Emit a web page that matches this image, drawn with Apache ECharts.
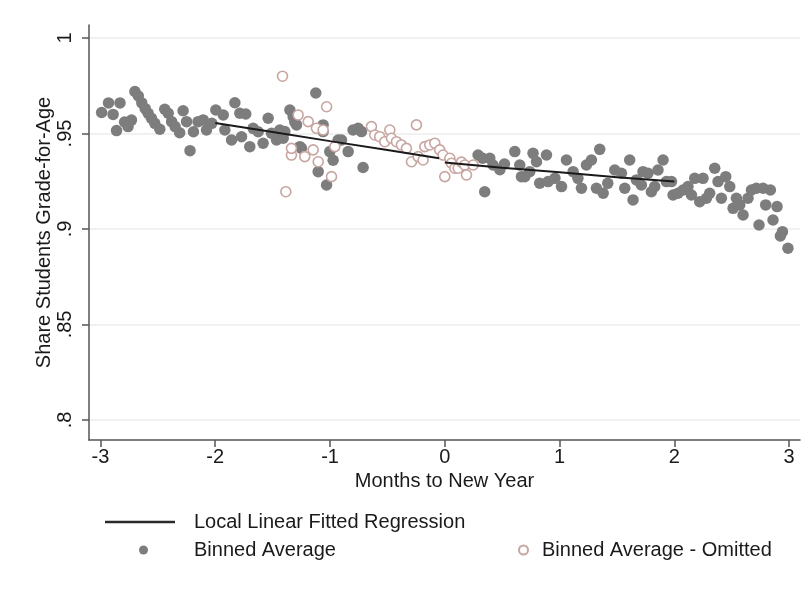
<!DOCTYPE html>
<html>
<head>
<meta charset="utf-8">
<script src="https://cdn.jsdelivr.net/npm/echarts@6/dist/echarts.min.js"></script>
<style>
html,body{margin:0;padding:0;background:#fff;}
#chart{width:809px;height:593px;}
</style>
</head>
<body>
<div id="chart"></div>
<script>
// ---- data ----
const xTicks = [-3, -2, -1, 0, 1, 2, 3];
const yTicks = [0.8, 0.85, 0.9, 0.95, 1];

const binned = [
  [-2.99,.961],[-2.93,.966],[-2.89,.960],[-2.86,.9515],[-2.83,.966],[-2.79,.956],[-2.76,.9536],[-2.73,.957],
  [-2.70,.972],[-2.67,.9696],[-2.64,.966],[-2.61,.963],[-2.585,.9606],[-2.556,.958],[-2.527,.9553],[-2.483,.9522],
  [-2.44,.9627],[-2.41,.9606],[-2.38,.9562],[-2.35,.9536],[-2.31,.9504],[-2.28,.9619],[-2.25,.9562],[-2.22,.941],
  [-2.19,.9509],[-2.15,.9562],[-2.105,.9571],[-2.076,.9518],[-2.03,.9553],[-1.995,.9623],
  [-1.93,.9597],[-1.916,.9518],[-1.858,.9466],[-1.829,.9661],[-1.786,.9606],[-1.771,.9483],[-1.734,.9602],
  [-1.699,.9431],[-1.67,.9527],[-1.626,.9509],[-1.583,.9449],[-1.539,.958],[-1.51,.9501],[-1.466,.9466],
  [-1.437,.9518],[-1.408,.9475],[-1.394,.951],
  [-1.35,.9623],[-1.321,.9588],[-1.307,.956],[-1.292,.9545],[-1.263,.9431],[-1.249,.9422],[-1.124,.9712],
  [-1.103,.930],[-1.06,.9545],[-1.06,.951],[-1.03,.923],[-1.002,.9405],[-0.973,.936],[-0.929,.9466],
  [-0.9,.9466],[-0.842,.9405],[-0.799,.9518],[-0.755,.9527],[-0.726,.951],[-0.712,.9322],
  [0.29,.9387],[0.33,.937],[0.348,.9195],[0.392,.937],[0.42,.9335],[0.48,.931],[0.52,.934],[0.61,.9405],
  [0.653,.9335],[0.668,.9274],[0.697,.9274],[0.74,.930],[0.769,.9396],[0.799,.9352],[0.827,.924],[0.886,.9387],
  [0.90,.9248],[0.96,.9265],[1.017,.9222],[1.06,.9361],[1.118,.930],[1.16,.9265],[1.191,.9213],[1.234,.9335],
  [1.278,.9361],[1.321,.9213],[1.35,.9417],[1.38,.9187],[1.42,.9239],
  [1.481,.9309],[1.539,.9292],[1.568,.9213],[1.611,.9361],[1.64,.9152],[1.67,.9257],[1.713,.923],[1.727,.930],
  [1.771,.9292],[1.80,.9195],[1.829,.9222],[1.858,.9309],[1.902,.9361],[1.931,.9248],[1.975,.9248],[1.989,.9178],
  [2.032,.9187],[2.076,.9204],[2.119,.9222],[2.149,.9178],[2.178,.9265],[2.221,.9143],[2.25,.9265],[2.28,.9161],
  [2.308,.9187],[2.352,.9318],[2.381,.9248],[2.41,.9161],[2.448,.9274],[2.483,.9222],[2.512,.9108],[2.541,.9161],
  [2.57,.9126],[2.599,.9073],[2.642,.9161],[2.672,.9204],[2.715,.9213],[2.738,.9021],[2.773,.9213],[2.796,.9126],
  [2.837,.9204],[2.86,.9047],[2.895,.9117],[2.924,.8963],[2.942,.8986],[2.99,.8899]
];

const omitted = [
  [-1.414,.980],[-1.385,.9195],[-1.336,.9387],[-1.336,.9422],[-1.278,.9597],[-1.22,.9379],[-1.19,.9562],
  [-1.147,.9414],[-1.118,.9527],[-1.103,.9352],[-1.06,.9518],[-1.03,.964],[-0.987,.9274],[-0.958,.9431],
  [-0.639,.9536],[-0.61,.9492],[-0.567,.9483],[-0.523,.9457],[-0.479,.9518],[-0.465,.9475],[-0.421,.9457],
  [-0.378,.944],[-0.334,.9422],[-0.29,.9352],[-0.247,.9545],[-0.232,.9379],[-0.189,.9361],[-0.174,.9431],
  [-0.131,.944],[-0.087,.9449],[-0.044,.9414],[-0.015,.9387],[0.0,.9274],[0.044,.937],[0.058,.9344],
  [0.087,.9318],[0.116,.9318],[0.145,.935],[0.174,.9335],[0.189,.9283],[0.247,.9335]
];

const fitLeft = [[-2,.9555],[-1.5,.9508],[-1,.9460],[-0.5,.9413],[-0.05,.9370]];
const fitRight = [[0,.9348],[0.5,.9321],[1,.9297],[1.5,.9271],[2,.9248]];

// ---- chart ----
const FONT = 'Liberation Sans, Arial, Helvetica, sans-serif';
const TXT = '#1a1a1a';
const AX = '#555555';
const chart = echarts.init(document.getElementById('chart'), null, {renderer: 'canvas'});
const fmtY = v => String(v).replace(/^0\./, '.');

chart.setOption({
  animation: false,
  backgroundColor: '#ffffff',
  textStyle: {fontFamily: FONT},
  grid: {left: 89, top: 25, right: 9, bottom: 153, containLabel: false},
  xAxis: {
    type: 'value', min: -3.1, max: 3.095,
    name: 'Months to New Year', nameLocation: 'middle', nameGap: 31,
    nameTextStyle: {fontSize: 20, color: TXT, fontFamily: FONT},
    axisLine: {show: true, onZero: false, lineStyle: {color: AX, width: 1.5}},
    axisTick: {show: true, customValues: xTicks, length: 7, lineStyle: {color: AX, width: 1.5}},
    axisLabel: {customValues: xTicks, fontSize: 20, color: TXT, margin: 7, fontFamily: FONT},
    splitLine: {show: false}
  },
  yAxis: {
    type: 'value', min: 0.7895, max: 1.0068,
    name: 'Share Students Grade-for-Age', nameLocation: 'middle', nameGap: 35, nameRotate: 90,
    nameMoveOverlap: false,
    nameTextStyle: {fontSize: 20, color: TXT, fontFamily: FONT},
    axisLine: {show: true, onZero: false, lineStyle: {color: AX, width: 1.5}},
    axisTick: {show: true, customValues: yTicks, length: 7, lineStyle: {color: AX, width: 1.5}},
    axisLabel: {customValues: yTicks, rotate: 90, fontSize: 20, color: TXT, margin: 14,
                formatter: fmtY, fontFamily: FONT},
    splitLine: {show: true, lineStyle: {color: '#ececec', width: 1.5}}
  },
  legend: [
    {data: ['Local Linear Fitted Regression'], left: 105, top: 512, padding: 0,
     icon: 'rect', itemWidth: 70, itemHeight: 2.5, selectedMode: false,
     textStyle: {fontSize: 20, color: TXT, fontFamily: FONT, padding: [0, 0, 0, 14]}},
    {data: ['Binned Average'], left: 139, top: 540, padding: 0,
     icon: 'circle', itemWidth: 9, itemHeight: 9, selectedMode: false,
     textStyle: {fontSize: 20, color: TXT, fontFamily: FONT, padding: [0, 0, 0, 41]}},
    {data: ['Binned Average - Omitted'], left: 518, top: 540, padding: 0,
     icon: 'circle', itemWidth: 9, itemHeight: 9, selectedMode: false,
     textStyle: {fontSize: 20, color: TXT, fontFamily: FONT, padding: [0, 0, 0, 9]}}
  ],
  series: [
    {name: 'Binned Average', type: 'scatter', data: binned, symbol: 'circle', symbolSize: 11.5,
     itemStyle: {color: '#7d7d7d', opacity: 1}, z: 2},
    {name: 'Binned Average - Omitted', type: 'scatter', data: omitted, symbol: 'circle', symbolSize: 10,
     itemStyle: {color: '#ffffff', borderColor: '#c7a5a0', borderWidth: 1.6, opacity: 1}, z: 3},
    {name: 'Local Linear Fitted Regression', type: 'line', data: fitLeft, symbol: 'none',
     lineStyle: {color: '#1a1a1a', width: 2}, itemStyle: {color: '#2a2a2a'}, z: 4},
    {name: 'Local Linear Fitted Regression', type: 'line', data: fitRight, symbol: 'none',
     lineStyle: {color: '#1a1a1a', width: 2}, itemStyle: {color: '#2a2a2a'}, z: 4}
  ]
});
</script>
</body>
</html>
